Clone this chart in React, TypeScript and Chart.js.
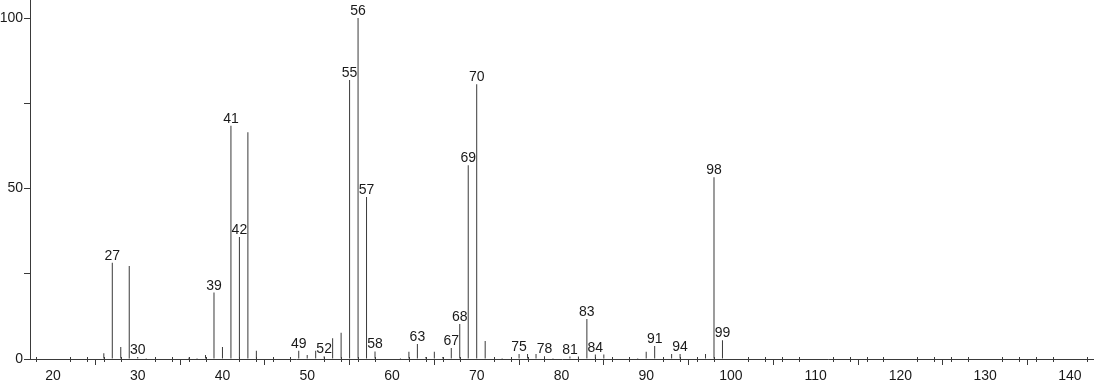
import React, { useEffect, useRef } from "react";
import { Chart, registerables } from "chart.js";

Chart.register(...registerables);

const mz: number[] = [
  26, 27, 28, 29, 30, 31, 36, 37, 38, 39, 40, 41, 42, 43, 44, 49, 50, 51, 52, 53,
  54, 55, 56, 57, 58, 61, 62, 63, 64, 65, 66, 67, 68, 69, 70, 71, 73, 75, 76, 77,
  78, 79, 81, 82, 83, 84, 85, 89, 90, 91, 93, 94, 97, 98, 99,
];
const intensity: number[] = [
  1.7, 28.2, 3.5, 27.3, 0.6, 0.3, 0.4, 0.3, 1.2, 19.5, 3.5, 68.4, 35.8, 66.5, 2.4, 2.4, 1.2, 2.4, 0.8, 6.1,
  7.7, 81.8, 100, 47.5, 2.2, 0.3, 2.1, 4.4, 0.6, 2.1, 0.6, 3.2, 10.3, 56.8, 80.6, 5.3, 0.3, 1.5, 1.5, 1.5,
  0.8, 0.3, 0.7, 0.7, 11.7, 1.3, 1.3, 0.3, 2.1, 3.8, 1.5, 1.5, 1.5, 53.3, 5.5,
];
const labeledPeaks: number[] = [
  27, 30, 39, 41, 42, 49, 52, 55, 56, 57, 58, 63, 67, 68, 69, 70, 75, 78, 81, 83, 84, 91, 94, 98, 99,
];
const xTickValues: number[] = [20, 30, 40, 50, 60, 70, 80, 90, 100, 110, 120, 130, 140];
const yTickValues: number[] = [0, 25, 50, 75, 100];
const yLabelValues: number[] = [0, 50, 100];

const X_MIN = 17.29;
const X_MAX = 142.84;
const Y_MAX = 105.28;

const FONT = "'Liberation Sans', Arial, sans-serif";
const LINE = "#3a3a3a";
const FONT_SIZE = 14;

const minorTicksPlugin = {
  id: "minorTicks",
  afterDraw(chart: any) {
    const xs = chart.scales.x;
    const ctx = chart.ctx;
    const y0 = xs.top;
    ctx.save();
    ctx.strokeStyle = LINE;
    ctx.lineWidth = 1;
    ctx.beginPath();
    for (let v = 18; v <= 142; v += 2) {
      if (v % 10 === 0) continue;
      const px = Math.round(xs.getPixelForValue(v)) + 0.5;
      ctx.moveTo(px, y0 - 2);
      ctx.lineTo(px, y0 + 3);
    }
    ctx.stroke();
    ctx.restore();
  },
};

const peakLabelsPlugin = {
  id: "peakLabels",
  afterDatasetsDraw(chart: any) {
    const xs = chart.scales.x;
    const ys = chart.scales.y;
    const ctx = chart.ctx;
    ctx.save();
    ctx.fillStyle = "#1a1a1a";
    ctx.font = `${FONT_SIZE}px ${FONT}`;
    ctx.textAlign = "center";
    ctx.textBaseline = "alphabetic";
    labeledPeaks.forEach((m) => {
      const i = mz.indexOf(m);
      if (i < 0) return;
      const px = xs.getPixelForValue(m);
      const py = ys.getPixelForValue(intensity[i]);
      ctx.fillText(String(m), px, py - 3);
    });
    ctx.restore();
  },
};

export default function App() {
  const ref = useRef<HTMLCanvasElement | null>(null);

  useEffect(() => {
    if (!ref.current) return;
    const chart = new Chart(ref.current, {
      type: "bar",
      data: {
        datasets: [
          {
            data: mz.map((m, i) => ({ x: m, y: intensity[i] })),
            backgroundColor: LINE,
            borderWidth: 0,
            barThickness: 1,
            inflateAmount: 0,
            grouped: false,
          } as any,
        ],
      },
      options: {
        animation: false,
        responsive: false,
        maintainAspectRatio: false,
        layout: { padding: 0 },
        plugins: {
          legend: { display: false },
          tooltip: { enabled: false },
        },
        scales: {
          x: {
            type: "linear",
            min: X_MIN,
            max: X_MAX,
            offset: false,
            afterBuildTicks: (s: any) => {
              s.ticks = xTickValues.map((v) => ({ value: v }));
            },
            afterFit: (s: any) => {
              s.height = 25;
              s.paddingLeft = 0;
              s.paddingRight = 0;
              s.paddingTop = 0;
              s.paddingBottom = 0;
            },
            grid: {
              drawOnChartArea: false,
              drawTicks: true,
              tickLength: 6,
              color: LINE,
            },
            border: { display: true, color: LINE, width: 1 },
            ticks: {
              padding: 3,
              maxRotation: 0,
              autoSkip: false,
              color: "#1a1a1a",
              font: { size: FONT_SIZE, family: FONT },
              callback: (v: any) => String(v),
            },
          },
          y: {
            type: "linear",
            min: 0,
            max: Y_MAX,
            afterBuildTicks: (s: any) => {
              s.ticks = yTickValues.map((v) => ({ value: v }));
            },
            afterFit: (s: any) => {
              s.width = 30;
              s.paddingLeft = 0;
              s.paddingRight = 0;
              s.paddingTop = 0;
              s.paddingBottom = 0;
            },
            grid: {
              drawOnChartArea: false,
              drawTicks: true,
              tickLength: 6,
              color: LINE,
            },
            border: { display: true, color: LINE, width: 1 },
            ticks: {
              padding: 1,
              autoSkip: false,
              color: "#1a1a1a",
              font: { size: FONT_SIZE, family: FONT },
              callback: (v: any) => (yLabelValues.includes(Number(v)) ? String(v) : ""),
            },
          },
        },
      },
      plugins: [minorTicksPlugin, peakLabelsPlugin],
    });
    return () => chart.destroy();
  }, []);

  return (
    <div style={{ position: "absolute", left: 0, top: 0, width: 1094, height: 384, background: "#fff" }}>
      <canvas ref={ref} width={1094} height={384} style={{ display: "block" }} />
    </div>
  );
}
